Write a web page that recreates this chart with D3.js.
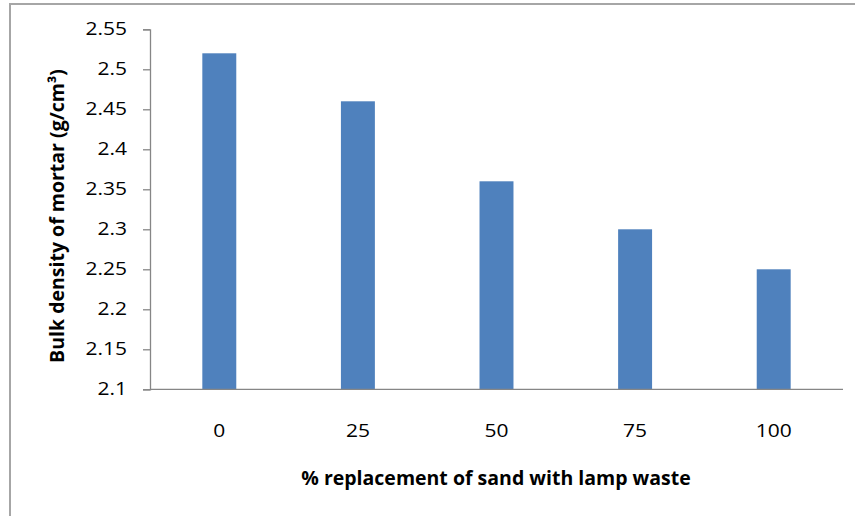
<!DOCTYPE html>
<html><head><meta charset="utf-8">
<script src="https://cdn.jsdelivr.net/npm/d3@7"></script>
<style>body{margin:0;background:#fff}svg{display:block}</style>
</head><body>
<svg id="chart" width="855" height="516"></svg>
<script>
const categories = ["0", "25", "50", "75", "100"];
const density = [2.52, 2.46, 2.36, 2.30, 2.25];
const yTicks = [2.1, 2.15, 2.2, 2.25, 2.3, 2.35, 2.4, 2.45, 2.5, 2.55];
const xTitle = "% replacement of sand with lamp waste";
const yTitle = "Bulk density of mortar (g/cm³)";

(function () {
const svg = d3.select("#chart");
const font = "'Open Sans', 'Liberation Sans', sans-serif";
const mLeft = 150, mRight = 843, mTop = 29.3, mBottom = 389.3;
const sx = 1.2;

svg.append("rect").attr("x", 10).attr("y", 4).attr("width", 860).attr("height", 530)
  .attr("fill", "none").attr("stroke", "#a6a6a6").attr("stroke-width", 2);

const x = d3.scaleBand().domain(categories).range([mLeft, mRight])
  .paddingInner(0.755).paddingOuter(0.3775);
const y = d3.scaleLinear().domain([2.1, 2.55]).range([mBottom, mTop]);

svg.selectAll("rect.bar").data(density).join("rect").attr("class", "bar")
  .attr("x", (d, i) => x(categories[i])).attr("width", x.bandwidth())
  .attr("y", d => y(d)).attr("height", d => mBottom - y(d))
  .attr("fill", "#4f81bd");

const yAxis = svg.append("g").attr("transform", `translate(${mLeft},0)`)
  .call(d3.axisLeft(y).tickValues(yTicks).tickSize(7).tickPadding(23).tickFormat(d => String(+d.toFixed(2))));
const xAxis = svg.append("g").attr("transform", `translate(0,${mBottom})`)
  .call(d3.axisBottom(x).tickSize(0).tickPadding(35));
[yAxis, xAxis].forEach(g => {
  g.select(".domain").attr("stroke", "#868686").attr("stroke-width", 1.3);
  g.selectAll(".tick line").attr("stroke", "#868686").attr("stroke-width", 1.3);
  g.selectAll("text").attr("fill", "#000").style("font-family", font).style("font-size", "17.5px");
});
yAxis.selectAll(".tick text").attr("x", -23 / sx).attr("transform", `scale(${sx},1)`);
xAxis.selectAll(".tick text").attr("transform", `scale(${sx},1)`);
xAxis.select(".domain").attr("d", `M${mLeft},0H${mRight}`);

svg.append("text").attr("x", 496).attr("y", 485).attr("text-anchor", "middle")
  .style("font-family", font).style("font-size", "19.5px").style("font-weight", "bold").text(xTitle);
svg.append("text").attr("transform", "translate(64,216) rotate(-90)").attr("text-anchor", "middle")
  .style("font-family", font).style("font-size", "19.5px").style("font-weight", "bold").text(yTitle);
})();
</script>
</body></html>
